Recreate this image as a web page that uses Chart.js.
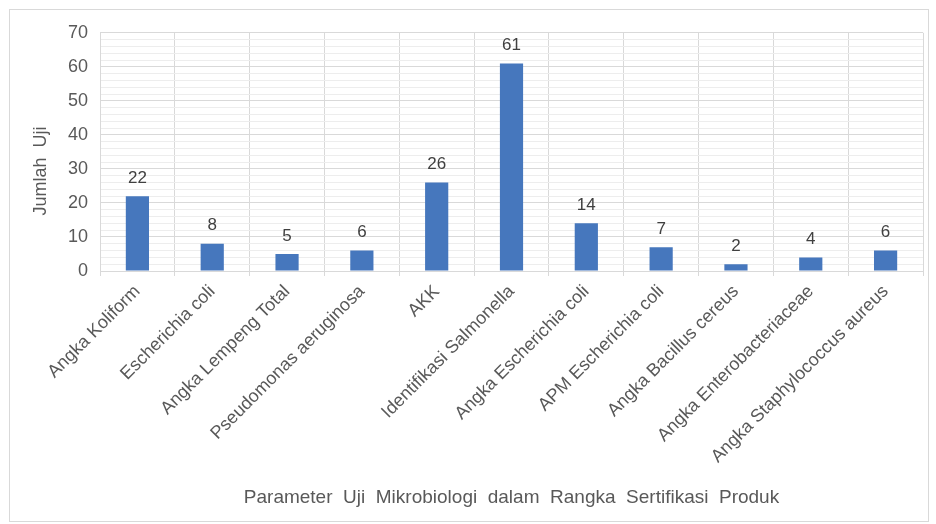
<!DOCTYPE html>
<html>
<head>
<meta charset="utf-8">
<script src="https://cdn.jsdelivr.net/npm/chart.js@4.4.1/dist/chart.umd.min.js"></script>
<style>
  html, body { margin: 0; padding: 0; background: #ffffff; }
  #frame {
    position: absolute;
    left: 9px; top: 9px;
    width: 918px; height: 511px;
    border: 1px solid #d9d9d9;
  }
  #chart { display: block; }
</style>
</head>
<body>
<div id="frame"><canvas id="chart" width="918" height="511"></canvas></div>
<script>
// chart data
const categories = [
    'Angka Koliform',
    'Escherichia coli',
    'Angka Lempeng Total',
    'Pseudomonas aeruginosa',
    'AKK',
    'Identifikasi Salmonella',
    'Angka Escherichia coli',
    'APM Escherichia coli',
    'Angka Bacillus cereus',
    'Angka Enterobacteriaceae',
    'Angka Staphylococcus aureus'
];

const jumlahUji = [22, 8, 5, 6, 26, 61, 14, 7, 2, 4, 6];

const yTickLabels = [0, 10, 20, 30, 40, 50, 60, 70];

const textColor = '#595959';
const fontFamily = '"Liberation Sans", Arial, sans-serif';

// values above the bars + the y axis title (Excel puts it a bit below centre)
const extraText = {
    id: 'extraText',
    afterDatasetsDraw(chart) {
        const ctx = chart.ctx;
        const meta = chart.getDatasetMeta(0);
        ctx.save();
        ctx.font = '17px ' + fontFamily;
        ctx.fillStyle = '#404040';
        ctx.textAlign = 'center';
        ctx.textBaseline = 'middle';
        meta.data.forEach((bar, i) => {
            ctx.fillText(String(jumlahUji[i]), bar.x, bar.y - 18);
        });

        const area = chart.chartArea;
        ctx.font = '18px ' + fontFamily;
        ctx.fillStyle = textColor;
        ctx.translate(31, (area.top + area.bottom) / 2 + 19);
        ctx.rotate(-Math.PI / 2);
        ctx.fillText('Jumlah  Uji', 0, 0);
        ctx.restore();
    }
};

const ctx = document.getElementById('chart').getContext('2d');

new Chart(ctx, {
    type: 'bar',
    data: {
        labels: categories,
        datasets: [
            {
                label: 'Jumlah Uji',
                data: jumlahUji,
                backgroundColor: '#4677bd',
                barPercentage: 0.31,
                categoryPercentage: 1
            }
        ]
    },
    options: {
        responsive: false,
        animation: false,
        layout: {
            padding: { top: 22, right: 5, bottom: 0, left: 0 }
        },
        plugins: {
            legend: { display: false },
            tooltip: { enabled: false }
        },
        scales: {
            x: {
                grid: {
                    color: '#d9d9d9',
                    offset: true,
                    tickLength: 5
                },
                border: { color: '#d9d9d9' },
                ticks: {
                    color: textColor,
                    font: { family: fontFamily, size: 18 },
                    maxRotation: 45,
                    minRotation: 45,
                    autoSkip: false,
                    padding: 5
                },
                title: {
                    display: true,
                    text: 'Parameter  Uji  Mikrobiologi  dalam  Rangka  Sertifikasi  Produk',
                    color: textColor,
                    font: { family: fontFamily, size: 19 },
                    padding: { top: 4, bottom: 12 }
                },
                afterFit(scale) {
                    scale.height = 250;
                }
            },
            y: {
                min: 0,
                max: 70,
                grid: {
                    color: (c) => (c.tick && c.tick.value % 10 === 0) ? '#d9d9d9' : '#ededed',
                    drawTicks: false
                },
                border: { color: '#d9d9d9' },
                ticks: {
                    stepSize: 2,
                    autoSkip: false,
                    color: textColor,
                    font: { family: fontFamily, size: 18 },
                    padding: 12,
                    callback: (v) => yTickLabels.includes(v) ? String(v) : ''
                },
                afterFit(scale) {
                    scale.width = 90;
                }
            }
        }
    },
    plugins: [extraText]
});
</script>
</body>
</html>
